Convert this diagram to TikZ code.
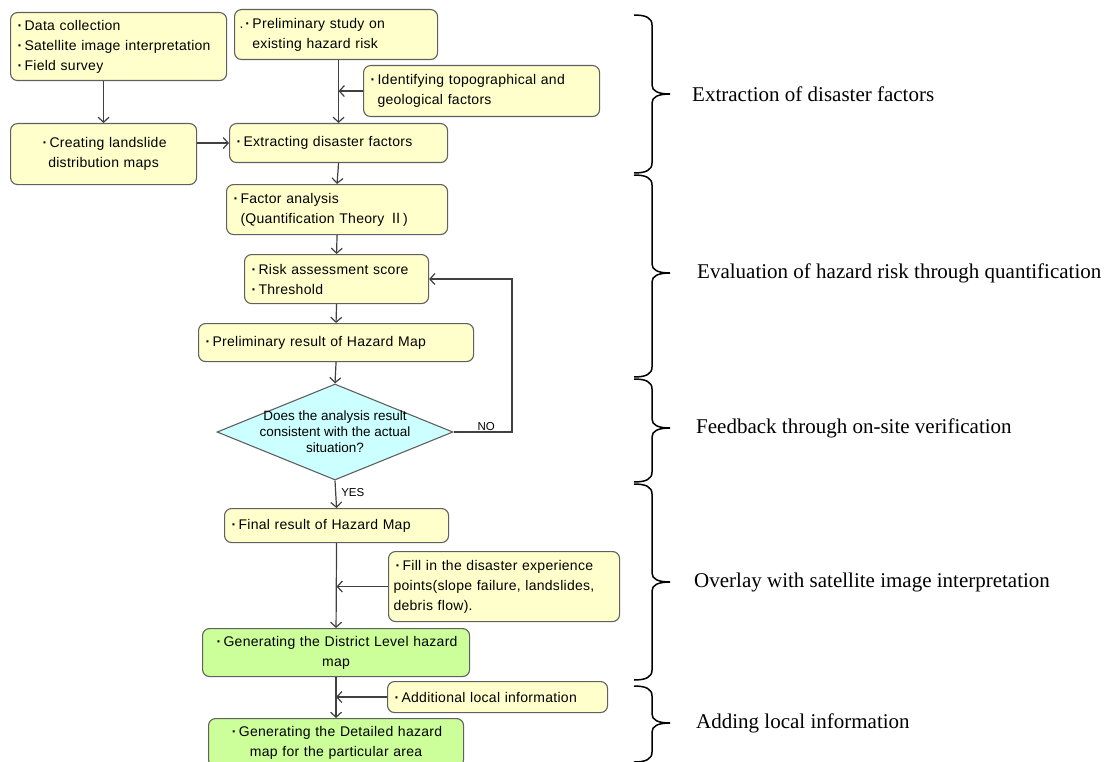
\documentclass[tikz,border=0pt]{standalone}
\usepackage{fontspec}
\setmainfont{Liberation Serif}
\newfontfamily\boxfont{Liberation Sans}[LetterSpace=2]
\newfontfamily\qfont{Liberation Sans}
\newfontfamily\cjk{Noto Sans CJK JP}
\usepackage{tikz}
\usetikzlibrary{arrows.meta}
\usetikzlibrary{shapes.geometric}
\definecolor{paleyellow}{RGB}{255, 255, 204}
\definecolor{palegreen}{RGB}{204, 255, 153}
\definecolor{palecyan}{RGB}{204, 255, 255}
\definecolor{edgegray}{RGB}{96, 96, 96}
\definecolor{linegray}{RGB}{64, 64, 64}
\newcommand{\bul}{\makebox[9pt][c]{\textbf{·}}}
\newcommand{\phasebrace}[3]{%
  \draw[bracket] (634,#1) .. controls (646,#1) and (652,#1+3) .. (652,#1+10)
     -- (652,#2-9) .. controls (652,#2-3) and (658,#2) .. (670,#2)
     .. controls (658,#2) and (652,#2+3) .. (652,#2+9)
     -- (652,#3-10) .. controls (652,#3-3) and (646,#3) .. (634,#3);}
\tikzset{
  ybox/.style={draw=edgegray, fill=paleyellow, rounded corners=7pt, line width=1.1pt,
               inner xsep=5pt, inner ysep=0pt, anchor=north west, align=left,
               font=\boxfont\fontsize{14}{20}\selectfont},
  gbox/.style={ybox, fill=palegreen, align=center},
  decision/.style={diamond, draw=edgegray, fill=palecyan, line width=1.1pt, inner sep=0pt},
  flow/.style={draw=linegray, line width=1.2pt, -{Straight Barb[length=5pt,width=11pt]}},
  bracket/.style={draw=black, line width=1.5pt},
  phase/.style={anchor=west, inner sep=0pt, font=\fontsize{21}{25}\selectfont},
  tag/.style={font=\qfont\fontsize{11.5}{13}\selectfont, inner sep=1pt}
}

\begin{document}
\begin{tikzpicture}[x=1pt, y=-1pt]
    \useasboundingbox (0,0) rectangle (1107,762);

    \node[ybox, text width=206pt, minimum height=68pt] (collect) at (10,12)
        {\bul Data collection\\\bul Satellite image interpretation\\\bul Field survey};
    \node[ybox, text width=193pt, minimum height=50pt] (prestudy) at (234,9)
        {.\bul Preliminary study on\\\phantom{.\bul}existing hazard risk};
    \node[ybox, text width=226pt, minimum height=51pt] (topo) at (363,65)
        {\bul Identifying topographical and\\\phantom{\bul}geological factors};
    \node[ybox, align=center, text width=176pt, minimum height=61pt] (slidemap) at (10,123)
        {\bul Creating landslide\\distribution maps};
    \node[ybox, text width=208pt, minimum height=39pt] (extract) at (229,123)
        {\bul Extracting disaster factors};
    \node[ybox, text width=211pt, minimum height=50pt] (factor) at (226,184)
        {\bul Factor analysis\\\phantom{\bul}(Quantification Theory {\cjk Ⅱ})};
    \node[ybox, text width=174pt, minimum height=49pt] (score) at (244,254)
        {\bul Risk assessment score\\\bul Threshold};
    \node[ybox, text width=265pt, minimum height=38pt] (premap) at (198,323)
        {\bul Preliminary result of Hazard Map};
    \node[decision, minimum width=236pt, minimum height=96pt] (check) at (335,432) {};
    \node[font=\qfont\fontsize{13.5}{16}\selectfont, align=center] (checktext) at (check.center)
        {Does the analysis result\\consistent with the actual\\situation?};
    \node[ybox, text width=214pt, minimum height=34pt] (finalmap) at (224,508)
        {\bul Final result of Hazard Map};
    \node[ybox, text width=221pt, minimum height=70pt] (points) at (388,551)
        {\bul Fill in the disaster experience\\points(slope failure, landslides,\\debris flow).};
    \node[gbox, text width=257pt, minimum height=48pt] (district) at (202,628)
        {\bul Generating the District Level hazard\\map};
    \node[ybox, text width=210pt, minimum height=31pt] (localinfo) at (387,681)
        {\bul Additional local information};
    \node[gbox, text width=245pt, minimum height=48pt] (detailed) at (208,718)
        {\bul Generating the Detailed hazard\\map for the particular area};

    \coordinate (loop) at (512,432);

    \draw[flow] (slidemap.north |- collect.south) -- (slidemap.north);
    \draw[flow] (extract.north |- prestudy.south) -- (extract.north);
    \draw[flow] (topo.west) -- (topo.west -| extract.north);
    \draw[flow] (slidemap.east |- extract.west) -- (extract.west);
    \draw[flow] (extract.south) -- (factor.north);
    \draw[flow] (factor.south) -- (score.north);
    \draw[flow] (score.south) -- (premap.north);
    \draw[flow] (premap.south) -- (check.north);
    \draw[flow] (check.east) -- node[tag, above, pos=0.56] {NO} (loop) |- (score.east);
    \draw[flow] (check.south) -- node[tag, right, pos=0.45, xshift=4pt] {YES} (finalmap.north);
    \draw[flow] (finalmap.south) -- (district.north);
    \draw[flow] (points.west) -- (points.west -| finalmap.south);
    \draw[flow] (district.south) -- (detailed.north);
    \draw[flow] (localinfo.west) -- (localinfo.west -| district.south);

    \phasebrace{15}{94}{173}
    \phasebrace{175}{273}{377}
    \phasebrace{379}{428}{482}
    \phasebrace{484}{582}{680}
    \phasebrace{686}{723}{762}

    \node[phase] (extractlbl) at (692,94)  {Extraction of disaster factors};
    \node[phase] (evallbl)    at (697,273) {Evaluation of hazard risk through quantification};
    \node[phase] (feedlbl)    at (696,428) {Feedback through on-site verification};
    \node[phase] (overlaylbl) at (694,582) {Overlay with satellite image interpretation};
    \node[phase] (addlbl)     at (696,723) {Adding local information};
\end{tikzpicture}
\end{document}
